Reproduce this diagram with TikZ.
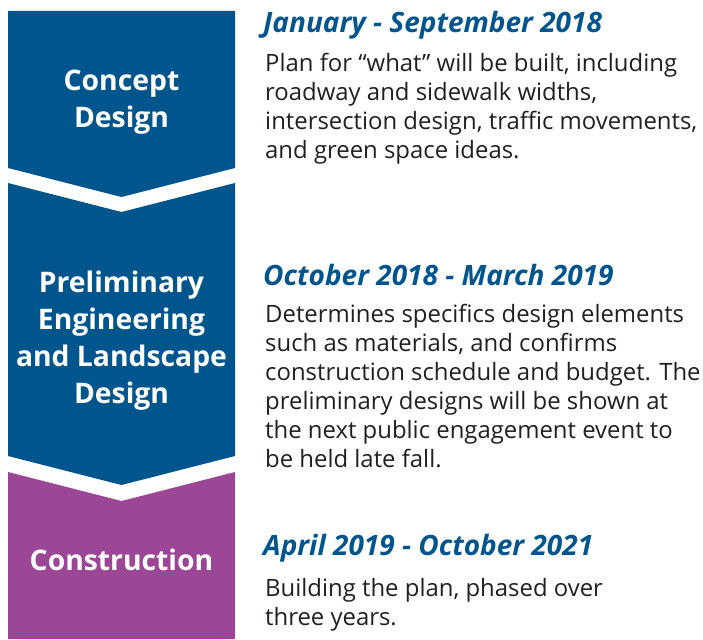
\documentclass[tikz,border=0pt]{standalone}
\usepackage{fontspec}
\setmainfont{Open Sans}
\definecolor{stageblue}{RGB}{0,86,140}
\definecolor{stagepurple}{RGB}{155,71,150}
\definecolor{bodygray}{RGB}{35,31,32}
\tikzset{
  stagelabel/.style={anchor=base, inner sep=0pt, align=center, text=white,
    font=\fontsize{28.3}{37}\selectfont\bfseries},
  datehead/.style={anchor=base west, inner sep=0pt, text=stageblue,
    font=\fontsize{28}{34}\selectfont\bfseries\itshape},
  bodytext/.style={anchor=base west, inner sep=0pt, align=left, text=bodygray,
    font=\fontsize{23.9}{29}\selectfont}
}
\begin{document}
\begin{tikzpicture}[x=1pt, y=-1pt]
        \useasboundingbox (0, 0) rectangle (703, 639);

        % Draw the three stage chevrons
        \fill[stageblue] (8, 11) -- (235, 11) -- (235, 168) -- (121.5, 197) -- (8, 168) -- cycle;
        \fill[stageblue] (8, 183) -- (121.5, 212) -- (235, 183) -- (235, 456) -- (121.5, 485) -- (8, 456) -- cycle;
        \fill[stagepurple] (8, 472) -- (121.5, 501) -- (235, 472) -- (235, 639) -- (8, 639) -- cycle;

        % Stage names (placed at the baseline of their last line)
        \node[stagelabel] (concept) at (121.5, 128) {Concept\\Design};
        \node[stagelabel] (prelim) at (121.5, 403) {Preliminary\\Engineering\\and Landscape\\Design};
        \node[stagelabel] (constr) at (121.5, 570) {Construction};

        % Dates and descriptions
        \node[datehead] (date1) at (263, 33) {January - September 2018};
        \node[bodytext] (desc1) at (265, 159) {Plan for “what” will be built, including\\roadway and sidewalk widths,\\intersection design, traffic movements,\\and green space ideas.};

        \node[datehead] (date2) at (263, 285) {October 2018 - March 2019};
        \node[bodytext] (desc2) at (265, 467) {Determines specifics design elements\\such as materials, and confirms\\construction schedule and budget. The\\preliminary designs will be shown at\\the next public engagement event to\\be held late fall.};

        \node[datehead] (date3) at (263, 555) {April 2019 - October 2021};
        \node[bodytext] (desc3) at (265, 625) {Building the plan, phased over\\three years.};
\end{tikzpicture}
\end{document}
